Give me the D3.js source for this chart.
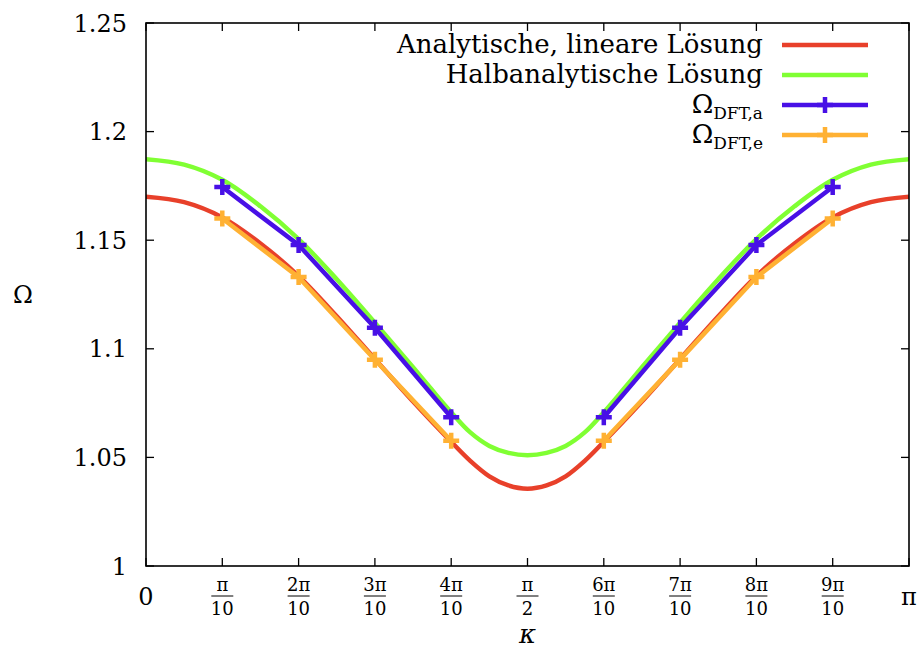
<!DOCTYPE html>
<html>
<head>
<meta charset="utf-8">
<script src="https://cdn.jsdelivr.net/npm/d3@7"></script>
<style>
  body { margin: 0; background: white; }
</style>
</head>
<body>
<div id="chart"></div>
<script>
// kappa values are given in units of pi (denser sampling around the minimum)
const curveKappa = [0, 0.05, 0.1, 0.15, 0.2, 0.25, 0.3, 0.35, 0.375, 0.4, 0.425, 0.45, 0.475, 0.5,
                    0.525, 0.55, 0.575, 0.6, 0.625, 0.65, 0.7, 0.75, 0.8, 0.85, 0.9, 0.95, 1];
// Analytische, lineare Loesung
const analytic = [1.1700, 1.1675, 1.1605, 1.1485, 1.1335, 1.1150, 1.0953, 1.0757, 1.0663, 1.0572, 1.0484, 1.0413, 1.0371, 1.0356,
                  1.0371, 1.0413, 1.0484, 1.0572, 1.0663, 1.0757, 1.0953, 1.1150, 1.1335, 1.1485, 1.1605, 1.1675, 1.1700];
// Halbanalytische Loesung
const halfAnalytic = [1.1873, 1.1848, 1.1778, 1.1656, 1.1505, 1.1320, 1.1120, 1.0915, 1.0810, 1.0708, 1.0615, 1.0553, 1.0521, 1.0510,
                      1.0521, 1.0553, 1.0615, 1.0708, 1.0810, 1.0915, 1.1120, 1.1320, 1.1505, 1.1656, 1.1778, 1.1848, 1.1873];
// DFT points (no point at pi/2)
const dftKappa = [0.1, 0.2, 0.3, 0.4, 0.5, 0.6, 0.7, 0.8, 0.9];
const dftA = [1.1745, 1.1478, 1.1097, 1.0685, null, 1.0685, 1.1097, 1.1478, 1.1745];
const dftE = [1.1600, 1.1330, 1.0950, 1.0577, null, 1.0577, 1.0950, 1.1330, 1.1600];

const yTicks = [1, 1.05, 1.1, 1.15, 1.2, 1.25];
const yTickLabels = ["1", "1.05", "1.1", "1.15", "1.2", "1.25"];
const xTicks = [0, 0.1, 0.2, 0.3, 0.4, 0.5, 0.6, 0.7, 0.8, 0.9, 1];
// numerator / denominator of the fraction labels, plain label for the ends
const xTickNum = ["", "\u03C0", "2\u03C0", "3\u03C0", "4\u03C0", "\u03C0", "6\u03C0", "7\u03C0", "8\u03C0", "9\u03C0", ""];
const xTickDen = ["", "10", "10", "10", "10", "2", "10", "10", "10", "10", ""];
const xTickPlain = ["0", "", "", "", "", "", "", "", "", "", "\u03C0"];

const seriesNames = ["Analytische, lineare L\u00F6sung", "Halbanalytische L\u00F6sung", "\u03A9", "\u03A9"];
const seriesSubs = ["", "", "DFT,a", "DFT,e"];
const colors = ["#e8402a", "#80ff33", "#4810e6", "#ffb133"];

const width = 918, height = 652;
const margin = {top: 23, right: 9, bottom: 86, left: 146};
const serif = "'DejaVu Serif', 'Liberation Serif', serif";

const svg = d3.select("#chart").append("svg")
    .attr("width", width)
    .attr("height", height)
    .attr("font-family", serif);

const x = d3.scaleLinear().domain([0, 1]).range([margin.left, width - margin.right]);
const y = d3.scaleLinear().domain([1, 1.25]).range([height - margin.bottom, margin.top]);

// tick marks (inward, all four sides)
const tickLen = 8;
const ticks = svg.append("g").attr("stroke", "#000").attr("stroke-width", 1.3);
for (let t of xTicks) {
    ticks.append("line").attr("x1", x(t)).attr("x2", x(t)).attr("y1", y(1)).attr("y2", y(1) - tickLen);
    ticks.append("line").attr("x1", x(t)).attr("x2", x(t)).attr("y1", y(1.25)).attr("y2", y(1.25) + tickLen);
}
for (let t of yTicks) {
    ticks.append("line").attr("x1", x(0)).attr("x2", x(0) + tickLen).attr("y1", y(t)).attr("y2", y(t));
    ticks.append("line").attr("x1", x(1)).attr("x2", x(1) - tickLen).attr("y1", y(t)).attr("y2", y(t));
}

// y tick labels
yTicks.forEach((t, i) => {
    svg.append("text")
        .attr("x", 127).attr("y", y(t)).attr("dy", "0.36em")
        .attr("text-anchor", "end")
        .attr("font-size", 24)
        .text(yTickLabels[i]);
});

// x tick labels (fractions)
xTicks.forEach((t, i) => {
    if (xTickPlain[i] != "") {
        svg.append("text")
            .attr("x", x(t)).attr("y", 605)
            .attr("text-anchor", "middle")
            .attr("font-size", 24)
            .text(xTickPlain[i]);
        return;
    }
    svg.append("text")
        .attr("x", x(t)).attr("y", 591)
        .attr("text-anchor", "middle")
        .attr("font-size", 18)
        .text(xTickNum[i]);
    svg.append("line")
        .attr("x1", x(t) - 11).attr("x2", x(t) + 11)
        .attr("y1", 596).attr("y2", 596)
        .attr("stroke", "#000").attr("stroke-width", 1);
    svg.append("text")
        .attr("x", x(t)).attr("y", 615)
        .attr("text-anchor", "middle")
        .attr("font-size", 18)
        .text(xTickDen[i]);
});

// axis titles
svg.append("text").attr("x", x(0.5)).attr("y", 643)
    .attr("text-anchor", "middle").attr("font-size", 26).attr("font-style", "italic")
    .text("\u03BA");
svg.append("text").attr("x", 23).attr("y", 303)
    .attr("text-anchor", "middle").attr("font-size", 24)
    .text("\u03A9");

// clip so the curves stay in the frame
svg.append("clipPath").attr("id", "plot-clip")
    .append("rect")
    .attr("x", x(0)).attr("y", y(1.25))
    .attr("width", x(1) - x(0)).attr("height", y(1) - y(1.25));

const plot = svg.append("g").attr("clip-path", "url(#plot-clip)");

const smoothLine = d3.line()
    .curve(d3.curveCatmullRom)
    .x(d => x(d.k))
    .y(d => y(d.v));

const dftLine = d3.line()
    .defined(d => d.v != null)
    .x(d => x(d.k))
    .y(d => y(d.v));

// plus marker path of a given half size
function plusPath(cx, cy, s) {
    return `M${cx - s},${cy}H${cx + s}M${cx},${cy - s}V${cy + s}`;
}

const curveSets = [analytic, halfAnalytic];
curveSets.forEach((vals, i) => {
    let data = curveKappa.map((k, j) => ({k: k, v: vals[j]}));
    plot.append("path")
        .datum(data)
        .attr("fill", "none")
        .attr("stroke", colors[i])
        .attr("stroke-width", 4.5)
        .attr("d", smoothLine);
});

const dftSets = [dftA, dftE];
dftSets.forEach((vals, i) => {
    let data = dftKappa.map((k, j) => ({k: k, v: vals[j]}));
    plot.append("path")
        .datum(data)
        .attr("fill", "none")
        .attr("stroke", colors[i + 2])
        .attr("stroke-width", 4.5)
        .attr("d", dftLine);
    plot.selectAll(null)
        .data(data.filter(d => d.v != null))
        .enter().append("path")
        .attr("fill", "none")
        .attr("stroke", colors[i + 2])
        .attr("stroke-width", 4.5)
        .attr("d", d => plusPath(x(d.k), y(d.v), 8));
});

// legend
const legendRows = [45, 75, 105, 135];
seriesNames.forEach((name, i) => {
    let ly = legendRows[i];
    let txt = svg.append("text")
        .attr("x", 763).attr("y", ly + 8)
        .attr("text-anchor", "end")
        .attr("font-size", 26);
    txt.append("tspan").text(name);
    if (seriesSubs[i] != "") {
        txt.append("tspan")
            .attr("dy", 6)
            .attr("font-size", 17)
            .text(seriesSubs[i]);
    }
    svg.append("line")
        .attr("x1", 782).attr("x2", 868)
        .attr("y1", ly).attr("y2", ly)
        .attr("stroke", colors[i]).attr("stroke-width", 4.5);
    if (i >= 2) {
        svg.append("path")
            .attr("fill", "none")
            .attr("stroke", colors[i])
            .attr("stroke-width", 4.5)
            .attr("d", plusPath(825, ly, 8));
    }
});

// frame
svg.append("rect")
    .attr("x", x(0)).attr("y", y(1.25))
    .attr("width", x(1) - x(0)).attr("height", y(1) - y(1.25))
    .attr("fill", "none").attr("stroke", "#000").attr("stroke-width", 1.6);
</script>
</body>
</html>
